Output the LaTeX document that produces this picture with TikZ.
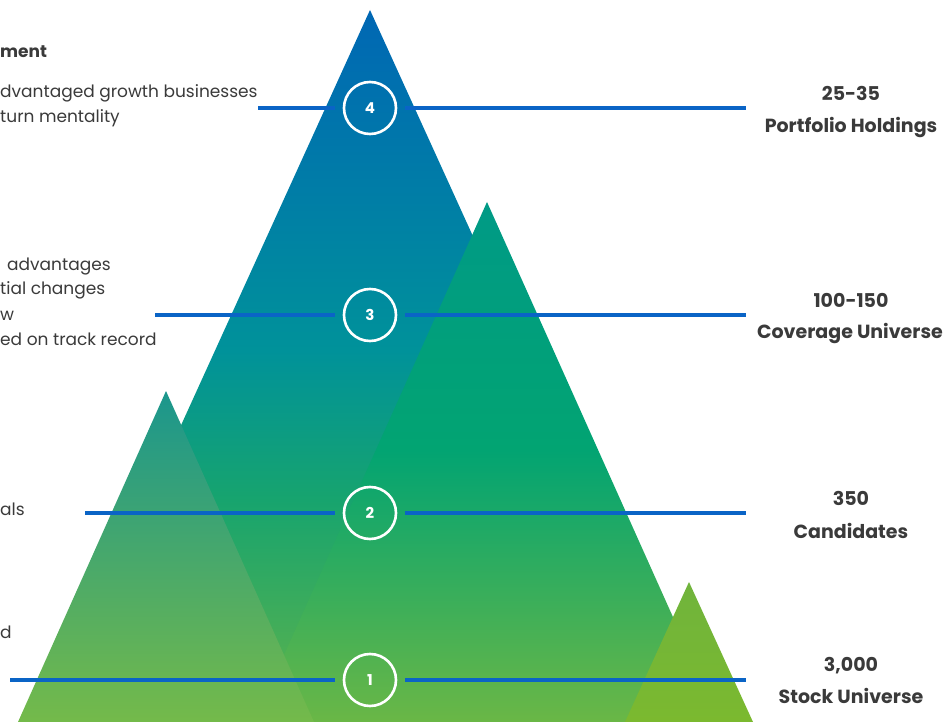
\documentclass[tikz,border=0pt]{standalone}
\usepackage{fontspec}
\setmainfont{Poppins}
\definecolor{mA}{HTML}{0067B4}
\definecolor{mB}{HTML}{007EA6}
\definecolor{mC}{HTML}{00929A}
\definecolor{mD}{HTML}{17A46E}
\definecolor{mE}{HTML}{62B44A}
\definecolor{sA}{HTML}{009A86}
\definecolor{sB}{HTML}{02A472}
\definecolor{sC}{HTML}{6AB746}
\definecolor{lA}{HTML}{1B968D}
\definecolor{lC}{HTML}{74BA4A}
\definecolor{rA}{HTML}{70B43C}
\definecolor{rC}{HTML}{7BB92F}
\definecolor{lineblue}{HTML}{0A64C6}
\definecolor{txt}{HTML}{3A3A3A}
\pgfdeclareverticalshading{shMain}{100bp}{color(0bp)=(mE); color(25bp)=(mE); color(40.6bp)=(mD); color(51.1bp)=(mC); color(61.7bp)=(mB); color(75bp)=(mA); color(100bp)=(mA)}
\pgfdeclareverticalshading{shSecond}{100bp}{color(0bp)=(sC); color(25bp)=(sC); color(51.1bp)=(sB); color(75bp)=(sA); color(100bp)=(sA)}
\pgfdeclareverticalshading{shLeft}{100bp}{color(0bp)=(lC); color(25bp)=(lC); color(75bp)=(lA); color(100bp)=(lA)}
\pgfdeclareverticalshading{shRight}{100bp}{color(0bp)=(rC); color(25bp)=(rC); color(75bp)=(rA); color(100bp)=(rA)}
\tikzset{
  bline/.style={draw=lineblue, line width=4pt},
  numcircle/.style={circle, draw=white, line width=2.6pt, minimum size=52pt, inner sep=0pt, outer sep=9pt, text=white, font=\bfseries\fontsize{15}{15}\selectfont},
  rlabel/.style={anchor=base, text=txt, font=\bfseries\fontsize{19}{19}\selectfont, inner sep=0pt},
  ltext/.style={anchor=base west, text=txt, font=\fontsize{17}{18}\selectfont, inner sep=0pt},
  lhead/.style={anchor=base west, text=txt, font=\bfseries\fontsize{17}{18}\selectfont, inner sep=0pt}
}
\begin{document}
\begin{tikzpicture}[x=1pt, y=-1pt]
\useasboundingbox (0,0) rectangle (946,722);
\clip (0,0) rectangle (946,722);
% mountains
\shade[shading=shMain] (370,10) -- (694,722) -- (46,722) -- cycle;
\shade[shading=shSecond] (487,202) -- (720,722) -- (254,722) -- cycle;
\shade[shading=shLeft] (166,391) -- (314,722) -- (18,722) -- cycle;
\shade[shading=shRight] (689,582) -- (753,722) -- (625,722) -- cycle;
% circles
\node[numcircle] (c4) at (370,108) {4};
\node[numcircle] (c3) at (370,315) {3};
\node[numcircle] (c2) at (370,513) {2};
\node[numcircle] (c1) at (370,680) {1};
% line ends
\coordinate (l4) at (258,108); \coordinate (r4) at (746,108);
\coordinate (l3) at (155,315); \coordinate (r3) at (746,315);
\coordinate (l2) at (85,513);  \coordinate (r2) at (746,513);
\coordinate (l1) at (10,680);  \coordinate (r1) at (746,680);
\draw[bline] (l4) -- (c4); \draw[bline] (c4) -- (r4);
\draw[bline] (l3) -- (c3); \draw[bline] (c3) -- (r3);
\draw[bline] (l2) -- (c2); \draw[bline] (c2) -- (r2);
\draw[bline] (l1) -- (c1); \draw[bline] (c1) -- (r1);
% right labels
\node[rlabel] (n4a) at (851,101) {25-35};
\node[rlabel] (n4b) at (851,133) {Portfolio Holdings};
\node[rlabel] (n3a) at (851,308) {100-150};
\node[rlabel] (n3b) at (850,339) {Coverage Universe};
\node[rlabel] (n2a) at (851,505) {350};
\node[rlabel] (n2b) at (851,538) {Candidates};
\node[rlabel] (n1a) at (851,671) {3,000};
\node[rlabel] (n1b) at (851,703) {Stock Universe};
% left (cropped) texts
\node[lhead] (t0) at (0,58) {ment};
\node[ltext] (t1) at (0,98) {dvantaged growth businesses};
\node[ltext] (t2) at (0,123) {turn mentality};
\node[ltext] (t3) at (7,271) {advantages};
\node[ltext] (t4) at (0,295) {tial changes};
\node[ltext] (t5) at (0,321) {w};
\node[ltext] (t6) at (0,345) {ed on track record};
\node[ltext] (t7) at (0,515) {als};
\node[ltext] (t8) at (0,638) {d};
\end{tikzpicture}
\end{document}
